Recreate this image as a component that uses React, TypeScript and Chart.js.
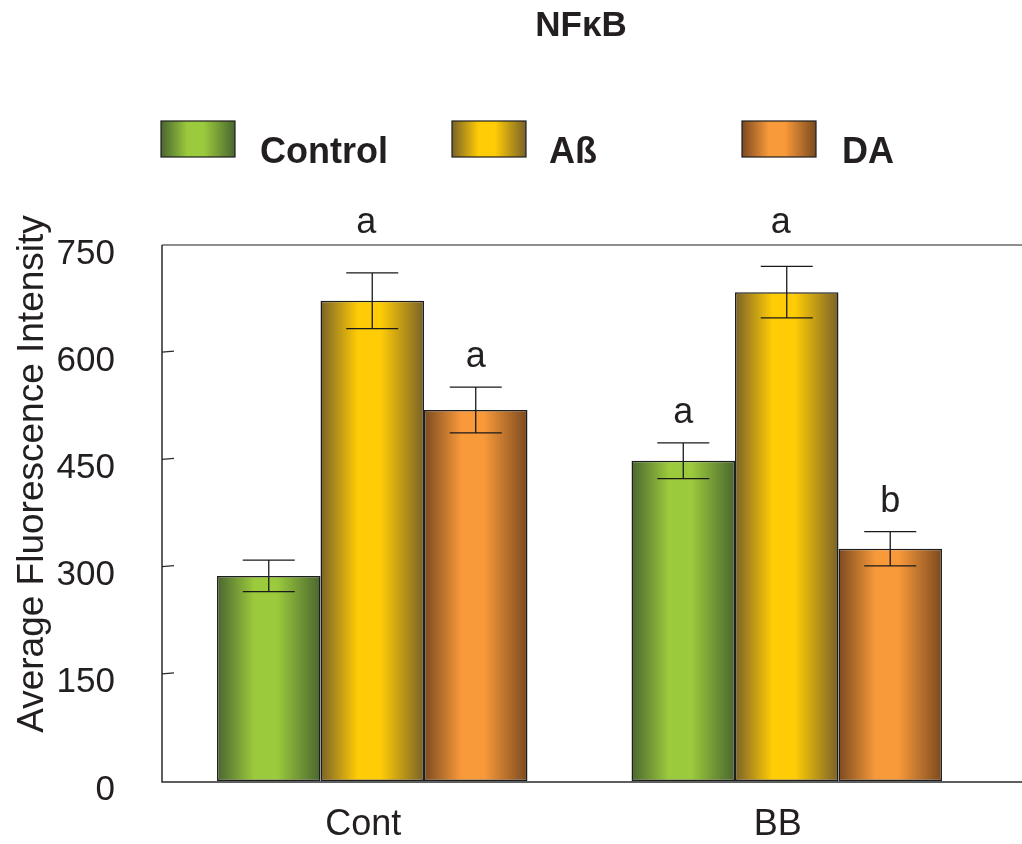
import React, { useEffect, useRef } from 'react';
import { Chart, registerables } from 'chart.js';

Chart.register(...registerables);

// ---- data ----
const categories = ['Cont', 'BB'];
const seriesNames = ['Control', 'Aß', 'DA'];
const controlValues = [287, 448];
const abetaValues = [672, 684];
const daValues = [519, 325];
const controlErrors = [22, 25];
const abetaErrors = [39, 36];
const daErrors = [32, 24];
const controlLetters = ['', 'a'];
const abetaLetters = ['a', 'a'];
const daLetters = ['a', 'b'];
const yTickValues = [0, 150, 300, 450, 600, 750];
const chartTitle = 'NFκB';
const yAxisTitle = 'Average Fluorescence Intensity';

// ---- styles ----
const FONT = '"Liberation Sans", Arial, Helvetica, sans-serif';
const TEXT = '#231f20';
const palettes = [
  { edge: '#4a6630', mid: '#9bca3c' },
  { edge: '#7a6229', mid: '#ffcc05' },
  { edge: '#7b4a1f', mid: '#f8993a' },
];
const seriesValues = [controlValues, abetaValues, daValues];
const seriesErrors = [controlErrors, abetaErrors, daErrors];
const seriesLetters = [controlLetters, abetaLetters, daLetters];

function makeGradient(ctx: CanvasRenderingContext2D, x0: number, x1: number, p: { edge: string; mid: string }) {
  const g = ctx.createLinearGradient(x0, 0, x1, 0);
  g.addColorStop(0, p.edge);
  g.addColorStop(0.36, p.mid);
  g.addColorStop(0.58, p.mid);
  g.addColorStop(1, p.edge);
  return g;
}

const gradientPlugin = {
  id: 'barGradient',
  beforeDatasetsDraw(chart: any) {
    const ctx = chart.ctx;
    chart.data.datasets.forEach((_: any, di: number) => {
      const meta = chart.getDatasetMeta(di);
      meta.data.forEach((el: any) => {
        const { x, width } = el.getProps(['x', 'width'], true);
        el.options.backgroundColor = makeGradient(ctx, x - width / 2, x + width / 2, palettes[di]);
      });
    });
  },
};

const overlayPlugin = {
  id: 'overlay',
  afterDraw(chart: any) {
    const ctx: CanvasRenderingContext2D = chart.ctx;
    const area = chart.chartArea;
    const yScale = chart.scales.y;
    const axisX = area.left - 3;
    const rightEdge = chart.width;
    ctx.save();

    // axis frame lines
    ctx.lineWidth = 1.5;
    ctx.strokeStyle = '#6a6a6a';
    ctx.beginPath();
    ctx.moveTo(axisX, area.top);
    ctx.lineTo(rightEdge, area.top);
    ctx.stroke();
    ctx.strokeStyle = '#2a2a2a';
    ctx.beginPath();
    ctx.moveTo(axisX, area.top);
    ctx.lineTo(axisX, area.bottom + 1);
    ctx.lineTo(rightEdge, area.bottom + 1);
    ctx.stroke();

    // inward tick marks
    ctx.lineWidth = 1.2;
    yTickValues.forEach((v) => {
      if (v === 0 || v === 750) return;
      const y = yScale.getPixelForValue(v);
      ctx.beginPath();
      ctx.moveTo(axisX, y);
      ctx.lineTo(axisX + 12, y - 1);
      ctx.stroke();
    });

    // error bars and letters
    chart.data.datasets.forEach((_: any, di: number) => {
      const meta = chart.getDatasetMeta(di);
      meta.data.forEach((el: any, i: number) => {
        const { x } = el.getProps(['x'], true);
        const v = seriesValues[di][i];
        const e = seriesErrors[di][i];
        const yt = yScale.getPixelForValue(v + e);
        const yb = yScale.getPixelForValue(v - e);
        ctx.strokeStyle = '#1a1a1a';
        ctx.lineWidth = 1.3;
        ctx.beginPath();
        ctx.moveTo(x, yt);
        ctx.lineTo(x, yb);
        ctx.moveTo(x - 26, yt);
        ctx.lineTo(x + 26, yt);
        ctx.moveTo(x - 26, yb);
        ctx.lineTo(x + 26, yb);
        ctx.stroke();

        const letter = seriesLetters[di][i];
        if (letter) {
          let ly = yt - 20;
          let lx = x;
          if (ly < area.top + 30) {
            ly = area.top - 12;
            lx = x - 6;
          }
          ctx.fillStyle = TEXT;
          ctx.font = `36px ${FONT}`;
          ctx.textAlign = 'center';
          ctx.textBaseline = 'alphabetic';
          ctx.fillText(letter, lx, ly);
        }
      });
    });

    // title
    ctx.fillStyle = TEXT;
    ctx.font = `bold 35px ${FONT}`;
    ctx.textAlign = 'center';
    ctx.textBaseline = 'alphabetic';
    ctx.fillText(chartTitle, 581, 36);

    // legend
    const legendBoxX = [161, 452, 742];
    const legendTextX = [260, 549, 842];
    seriesNames.forEach((name, i) => {
      const bx = legendBoxX[i];
      ctx.fillStyle = makeGradient(ctx, bx, bx + 74, palettes[i]);
      ctx.fillRect(bx, 121, 74, 36);
      ctx.strokeStyle = '#1e1e1e';
      ctx.lineWidth = 1.2;
      ctx.strokeRect(bx, 121, 74, 36);
      ctx.fillStyle = TEXT;
      ctx.font = `bold 36px ${FONT}`;
      ctx.textAlign = 'left';
      ctx.fillText(name, legendTextX[i], 163);
    });

    // y axis title
    ctx.save();
    ctx.translate(33, 474);
    ctx.rotate(-Math.PI / 2);
    ctx.fillStyle = TEXT;
    ctx.font = `37px ${FONT}`;
    ctx.textAlign = 'center';
    ctx.textBaseline = 'middle';
    ctx.fillText(yAxisTitle, 0, 0);
    ctx.restore();

    ctx.restore();
  },
};

export default function App() {
  const canvasRef = useRef<HTMLCanvasElement | null>(null);

  useEffect(() => {
    if (!canvasRef.current) return;
    const chart = new Chart(canvasRef.current, {
      type: 'bar',
      data: {
        labels: categories,
        datasets: seriesNames.map((name, i) => ({
          label: name,
          data: seriesValues[i],
          backgroundColor: () => palettes[i].mid,
          borderColor: '#1e1e1e',
          borderWidth: 1.5,
          borderSkipped: false,
          barPercentage: 1,
          categoryPercentage: 0.749,
        })),
      },
      options: {
        animation: false,
        responsive: true,
        maintainAspectRatio: false,
        layout: { padding: { top: 245, right: 28, left: 0, bottom: 0 } },
        plugins: {
          legend: { display: false },
          title: { display: false },
          tooltip: { enabled: false },
        },
        scales: {
          x: {
            grid: { display: false, drawTicks: false },
            border: { display: false },
            ticks: {
              color: TEXT,
              font: { family: FONT, size: 36 },
              padding: 22,
              labelOffset: -9,
            },
            afterFit: (s: any) => {
              s.height = 63;
              s.paddingLeft = 0;
              s.paddingRight = 0;
            },
          },
          y: {
            min: 0,
            max: 750,
            grid: { display: false, drawTicks: false },
            border: { display: false },
            afterBuildTicks: (s: any) => {
              s.ticks = yTickValues.map((v) => ({ value: v }));
            },
            ticks: {
              color: TEXT,
              font: { family: FONT, size: 35 },
              padding: 50,
              labelOffset: 9,
            },
            afterFit: (s: any) => {
              s.width = 165;
              s.paddingTop = 0;
              s.paddingBottom = 0;
            },
          },
        },
      },
      plugins: [gradientPlugin, overlayPlugin],
    });
    return () => chart.destroy();
  }, []);

  return (
    <div style={{ position: 'fixed', left: 0, top: 0, width: 1022, height: 844, background: '#fff' }}>
      <canvas ref={canvasRef} />
    </div>
  );
}
